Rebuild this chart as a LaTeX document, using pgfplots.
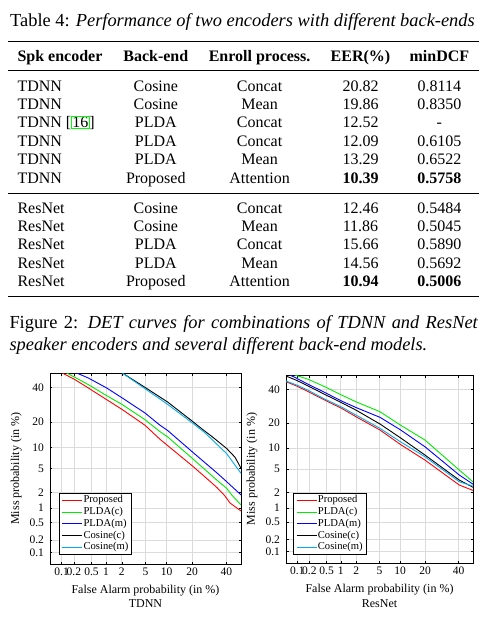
\documentclass[border=0pt]{standalone}
\usepackage{pgfplots}
\pgfplotsset{compat=1.18}
\usepackage{fontspec}
\setmainfont{Liberation Serif}
\definecolor{detgreen}{RGB}{0,235,0}
\definecolor{linkgreen}{RGB}{0,255,0}
\newcommand{\trow}[6]{%
  \node[tab,anchor=base west] at (17.3,-#1) {#2};
  \node[tab,anchor=base] at (155.8,-#1) {#3};
  \node[tab,anchor=base] at (259.6,-#1) {#4};
  \node[tab,anchor=base] at (360.5,-#1) {#5};
  \node[tab,anchor=base] at (439.4,-#1) {#6};}
\pgfplotsset{
  detaxis/.style={
    scale only axis, anchor=south west,
    xmin=-3.2905, xmax=0, ymin=-3.2905, ymax=0,
    xtick={-3.0902,-2.8782,-2.5758,-2.3263,-2.0537,-1.6449,-1.2816,-0.8416,-0.2533},
    xticklabels={0.1,0.2,0.5,1,2,5,10,20,40},
    ytick={-3.0902,-2.8782,-2.5758,-2.3263,-2.0537,-1.6449,-1.2816,-0.8416,-0.2533},
    yticklabels={0.1,0.2,0.5,1,2,5,10,20,40},
    grid=major, major grid style={line width=0.6pt, color=black!14},
    tick align=inside, major tick length=2.5pt,
    tick style={black, line width=0.5pt},
    axis line style={line width=0.8pt},
    tick label style={font=\fontsize{11.5}{12}\selectfont},
    xticklabel style={yshift=-0.5pt},
    yticklabel style={xshift=-2.5pt},
    xlabel style={font=\fontsize{12}{14}\selectfont, at={(axis description cs:0.5,0)}, anchor=base, yshift=-29.5pt},
    ylabel style={font=\fontsize{12}{14}\selectfont, anchor=base},
    xlabel={False Alarm probability (in \%)},
    ylabel={Miss probability (in \%)},
    legend cell align=left,
    legend style={font=\fontsize{10.6}{11}\selectfont, anchor=south west, draw=black, line width=0.8pt,
      inner sep=1pt, inner xsep=2.5pt, nodes={inner sep=0.8pt, text height=7.6pt, text depth=2.6pt}},
    legend image code/.code={\draw[##1, line width=0.9pt] (0pt,0pt) -- (20pt,0pt);},
    every axis plot/.append style={line width=0.9pt},
  }
}
\begin{document}
\begin{tikzpicture}[x=1pt,y=1pt, tab/.style={font=\fontsize{16}{19}\selectfont, inner sep=0pt}]
\path[use as bounding box] (0,0) rectangle (493,-622);
% ---------- Table ----------
\node[anchor=base west, inner sep=0pt] at (10,-26.7) {\fontsize{18.4}{22}\selectfont Table 4: \textit{Performance of two encoders with different back-ends}};
\draw[line width=1.3pt] (8.3,-41.7) -- (479,-41.7);
\trow{61.7}{\textbf{Spk encoder}}{\textbf{Back-end}}{\textbf{Enroll process.}}{\textbf{EER(\%)}}{\textbf{minDCF}}
\draw[line width=0.8pt] (8.3,-70.7) -- (479,-70.7);
\trow{91.0}{TDNN}{Cosine}{Concat}{20.82}{0.8114}
\trow{109.4}{TDNN}{Cosine}{Mean}{19.86}{0.8350}
\trow{127.8}{TDNN [{\setlength{\fboxsep}{0.4pt}\setlength{\fboxrule}{0.7pt}\fcolorbox{linkgreen}{white}{16}}]}{PLDA}{Concat}{12.52}{-}
\trow{146.2}{TDNN}{PLDA}{Concat}{12.09}{0.6105}
\trow{164.6}{TDNN}{PLDA}{Mean}{13.29}{0.6522}
\trow{183.0}{TDNN}{Proposed}{Attention}{\textbf{10.39}}{\textbf{0.5758}}
\draw[line width=0.8pt] (8.3,-193.3) -- (479,-193.3);
\trow{213.3}{ResNet}{Cosine}{Concat}{12.46}{0.5484}
\trow{231.6}{ResNet}{Cosine}{Mean}{11.86}{0.5045}
\trow{249.9}{ResNet}{PLDA}{Concat}{15.66}{0.5890}
\trow{268.2}{ResNet}{PLDA}{Mean}{14.56}{0.5692}
\trow{286.5}{ResNet}{Proposed}{Attention}{\textbf{10.94}}{\textbf{0.5006}}
\draw[line width=1.3pt] (8.3,-296.7) -- (479,-296.7);
% ---------- Figure caption ----------
\node[anchor=base west, inner sep=0pt] at (9.3,-328.3) {\fontsize{18.4}{22}\selectfont\makebox[468.7pt][s]{Figure 2: \textit{DET curves for combinations of TDNN and ResNet}}};
\node[anchor=base west, inner sep=0pt] at (9.3,-350) {\fontsize{18.4}{22}\selectfont\textit{speaker encoders and several different back-end models.}};
% ---------- TDNN DET ----------
\begin{axis}[detaxis, at={(50pt,-564pt)}, width=191pt, height=191pt,
  ylabel style={at={(axis description cs:-0.161,0.5)}},
  legend style={at={(axis description cs:0.047,0.049)}}]
\addplot[red] coordinates {(-3.078,0) (-2.859,-0.115) (-2.630,-0.258) (-2.314,-0.459) (-2.044,-0.631) (-1.654,-0.900) (-1.395,-1.142) (-1.264,-1.250) (-0.822,-1.614) (-0.506,-1.891) (-0.419,-1.969) (-0.300,-2.090) (-0.247,-2.158) (-0.190,-2.239) (0,-2.377)};
\addlegendentry{Proposed}
\addplot[detgreen] coordinates {(-3.003,0) (-2.859,-0.075) (-2.630,-0.201) (-2.314,-0.390) (-2.044,-0.545) (-1.654,-0.804) (-1.395,-1.011) (-1.264,-1.100) (-0.822,-1.486) (-0.419,-1.843) (-0.247,-1.986) (-0.160,-2.100) (0,-2.273)};
\addlegendentry{PLDA(c)}
\addplot[blue] coordinates {(-2.831,0) (-2.630,-0.086) (-2.314,-0.258) (-2.044,-0.431) (-1.654,-0.689) (-1.395,-0.900) (-1.264,-0.990) (-0.822,-1.373) (-0.419,-1.717) (-0.247,-1.872) (0,-2.100)};
\addlegendentry{PLDA(m)}
\addplot[black] coordinates {(-2.044,0) (-1.654,-0.247) (-1.264,-0.500) (-0.839,-0.830) (-0.677,-0.960) (-0.506,-1.090) (-0.247,-1.300) (-0.104,-1.450) (0,-1.640)};
\addlegendentry{Cosine(c)}
\addplot[cyan] coordinates {(-2.044,0) (-1.654,-0.270) (-1.264,-0.540) (-0.839,-0.860) (-0.620,-1.030) (-0.247,-1.390) (0,-1.728)};
\addlegendentry{Cosine(m)}
\end{axis}
\node[anchor=base, inner sep=0pt, font=\fontsize{12}{14}\selectfont] at (145.5,-607.7) {TDNN};
% ---------- ResNet DET ----------
\begin{axis}[detaxis, at={(286pt,-563pt)}, width=187pt, height=188pt,
  ylabel style={at={(axis description cs:-0.166,0.5)}},
  legend style={at={(axis description cs:0.039,0.044)}}]
\addplot[red] coordinates {(-3.290,-0.117) (-3.103,-0.193) (-2.898,-0.292) (-2.634,-0.427) (-2.312,-0.584) (-2.049,-0.736) (-1.636,-0.963) (-1.276,-1.216) (-0.845,-1.489) (-0.468,-1.762) (-0.241,-1.926) (0,-2.020)};
\addlegendentry{Proposed}
\addplot[detgreen] coordinates {(-3.132,0) (-2.898,-0.076) (-2.634,-0.193) (-2.312,-0.351) (-2.049,-0.473) (-1.636,-0.643) (-1.276,-0.877) (-0.845,-1.138) (-0.468,-1.466) (-0.241,-1.664) (0,-1.870)};
\addlegendentry{PLDA(c)}
\addplot[blue] coordinates {(-3.220,0) (-3.103,-0.058) (-2.898,-0.164) (-2.634,-0.292) (-2.312,-0.456) (-2.049,-0.573) (-1.636,-0.741) (-1.276,-0.960) (-0.845,-1.256) (-0.468,-1.565) (-0.241,-1.751) (0,-1.910)};
\addlegendentry{PLDA(m)}
\addplot[black] coordinates {(-3.290,-0.018) (-3.103,-0.094) (-2.898,-0.193) (-2.634,-0.327) (-2.312,-0.485) (-2.049,-0.620) (-1.636,-0.858) (-1.276,-1.100) (-0.845,-1.401) (-0.468,-1.675) (-0.241,-1.839) (0,-1.965)};
\addlegendentry{Cosine(c)}
\addplot[cyan] coordinates {(-3.290,-0.105) (-3.103,-0.175) (-2.898,-0.269) (-2.634,-0.409) (-2.312,-0.561) (-2.049,-0.707) (-1.636,-0.934) (-1.276,-1.169) (-0.845,-1.431) (-0.468,-1.704) (-0.241,-1.869) (0,-1.945)};
\addlegendentry{Cosine(m)}
\end{axis}
\node[anchor=base, inner sep=0pt, font=\fontsize{12}{14}\selectfont] at (379.5,-607.7) {ResNet};
\end{tikzpicture}
\end{document}
